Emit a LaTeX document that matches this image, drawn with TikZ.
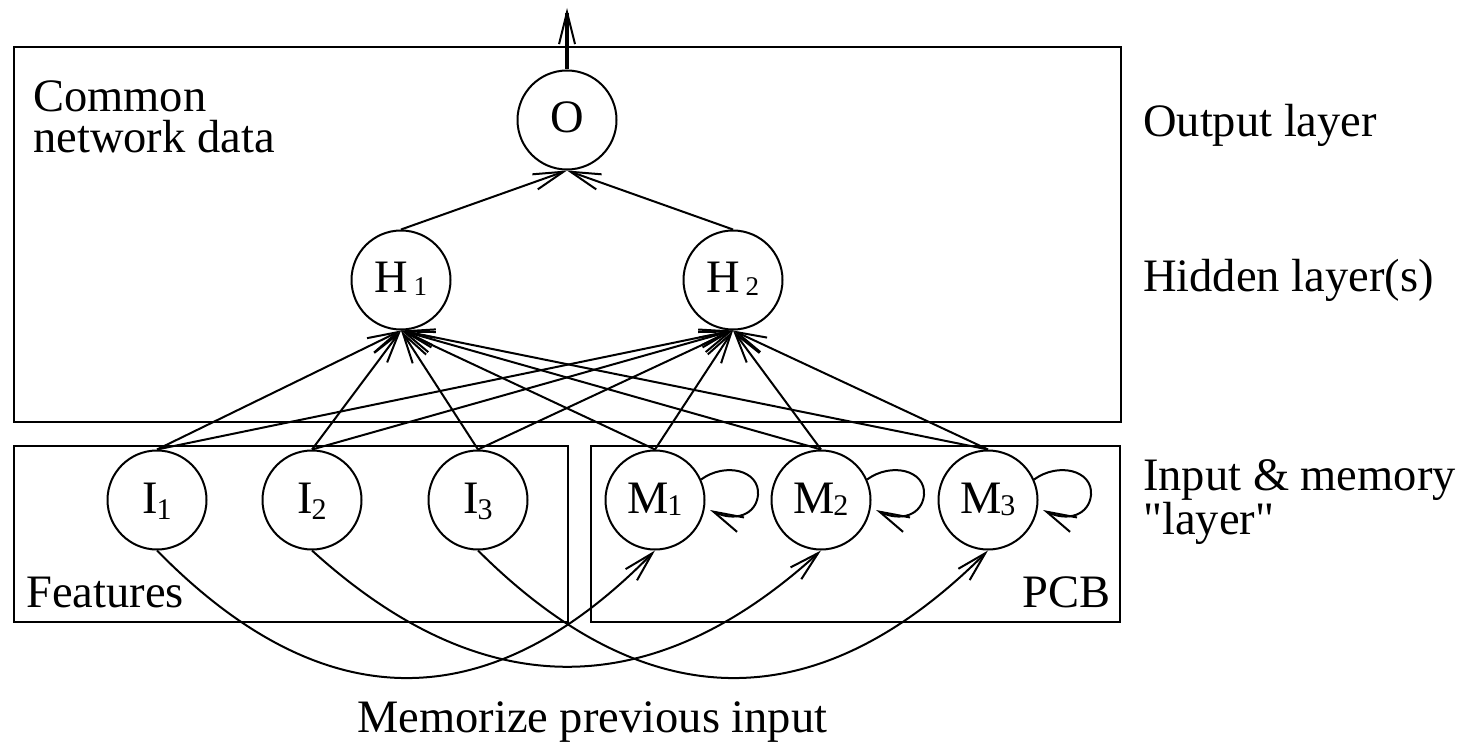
\documentclass[tikz,border=0pt]{standalone}
\usepackage{fontspec}
\setmainfont{Liberation Serif}[Ligatures=TeXOff]
\usetikzlibrary{arrows.meta}
\begin{document}
\begin{tikzpicture}[x=1pt,y=-1pt,
  every node/.style={font=\fontsize{46.5}{44}\selectfont},
  neuron/.style={draw,circle,line width=2pt,minimum size=99pt,inner sep=0pt,text height=30pt,text depth=4pt},
  lbl/.style={anchor=base west,inner sep=0pt},
  frame/.style={draw,line width=2pt},
  arr/.style={line width=2pt,-{Straight Barb[length=30pt,width=16pt,line width=2pt]}},
  bigarr/.style={line width=4pt,-{Straight Barb[length=32pt,width=16pt,line width=2pt]}}
]
\useasboundingbox (0,0) rectangle (1461,743);
\newcommand{\hsub}[1]{\hspace{5pt}\raisebox{-2pt}{\fontsize{27}{27}\selectfont #1}}
\newcommand{\isub}[1]{\kern-1pt\raisebox{-6pt}{\fontsize{30}{30}\selectfont #1}}
\newcommand{\msub}[1]{\kern-1.5pt\raisebox{-2pt}{\fontsize{30}{30}\selectfont #1}}

% frames
\draw[frame] (14,47) rectangle (1121,422);
\draw[frame] (14,446) rectangle (568,622);
\draw[frame] (591,446) rectangle (1120,622);

% neurons
\node[neuron] (O) at (567,120) {O};
\node[neuron] (H1) at (401,280) {H\hsub{1}};
\node[neuron] (H2) at (733,280) {H\hsub{2}};
\node[neuron] (I1) at (157,500) {I\isub{1}};
\node[neuron] (I2) at (312,500) {I\isub{2}};
\node[neuron] (I3) at (478,500) {I\isub{3}};
\node[neuron] (M1) at (655,500) {M\msub{1}};
\node[neuron] (M2) at (821,500) {M\msub{2}};
\node[neuron] (M3) at (988,500) {M\msub{3}};

% output arrow
\coordinate (out) at (567,8);
\draw[bigarr] (O.north) -- (out);

% hidden -> output
\draw[arr] (H1.north) -- (O.south);
\draw[arr] (H2.north) -- (O.south);

% inputs -> hidden
\foreach \s in {I1,I2,I3,M1,M2,M3} {
  \draw[arr] (\s.north) -- (H1.south);
  \draw[arr] (\s.north) -- (H2.south);
}

% self loops
\foreach \n/\cx in {1/655,2/821,3/988} {
  \draw[arr] (M\n.24) .. controls (\cx+70,462) and (\cx+105,470) .. (\cx+103,495)
     .. controls (\cx+101,515) and (\cx+80,522) .. (\cx+55,510);
}

% memorize curves
\draw[arr] (I1.south) .. controls (323,720) and (489,720) .. (M1.south);
\draw[arr] (I2.south) .. controls (482,705) and (651,705) .. (M2.south);
\draw[arr] (I3.south) .. controls (648,720) and (818,720) .. (M3.south);

% texts
\node[lbl] (t1) at (33,112) {Common};
\node[lbl] (t2) at (33,153) {network data};
\node[lbl] (t3) at (1143,137) {Output layer};
\node[lbl] (t4) at (1143,291) {Hidden layer(s)};
\node[lbl] (t5) at (1143,490) {Input \& memory};
\node[lbl] (t6) at (1143,534) {"layer"};
\node[lbl] (t7) at (26,607) {Features};
\node[lbl,anchor=base east] (t8) at (1111,607) {PCB};
\node[lbl] (t9) at (357,732) {Memorize previous input};
\end{tikzpicture}
\end{document}
